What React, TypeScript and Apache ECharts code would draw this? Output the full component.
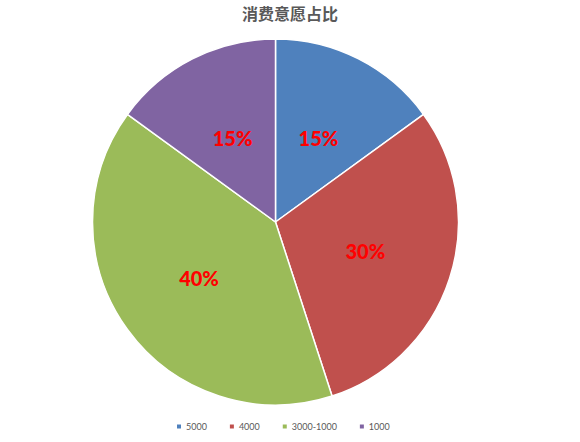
import React, { useEffect, useRef } from "react";
import * as echarts from "echarts";

const titleText = "消费意愿占比";
const categories = ["5000", "4000", "3000-1000", "1000"];
const values = [15, 30, 40, 15];
const colors = ["#4F81BD", "#C0504D", "#9BBB59", "#8064A2"];

export default function App() {
  const ref = useRef<HTMLDivElement>(null);
  useEffect(() => {
    if (!ref.current) return;
    const chart = echarts.init(ref.current, null, { renderer: "svg" });
    chart.setOption({
      animation: false,
      backgroundColor: "#ffffff",
      color: colors,
      title: {
        text: titleText,
        left: "center",
        top: 0,
        textStyle: {
          fontFamily: "Noto Sans CJK SC",
          fontSize: 16,
          fontWeight: "bold",
          color: "#595959",
        },
      },
      legend: {
        left: 175,
        top: 422,
        padding: 0,
        icon: "rect",
        itemWidth: 6,
        itemHeight: 6,
        itemGap: 21,
        textStyle: {
          fontFamily: "Lato",
          fontSize: 9,
          color: "#595959",
          padding: [0, 0, 0, -1],
        },
        data: categories,
      },
      series: [
        {
          type: "pie",
          center: [275.5, 222],
          radius: 183,
          startAngle: 90,
          clockwise: true,
          itemStyle: { borderColor: "#ffffff", borderWidth: 1.5 },
          label: {
            show: true,
            position: "inside",
            formatter: "{d}%",
            color: "#FF0000",
            fontFamily: "Lato",
            fontWeight: 900,
            fontSize: 20,
          },
          labelLine: { show: false },
          emphasis: { disabled: true },
          data: categories.map((c, i) => ({ name: c, value: values[i] })),
        },
      ],
    });
    return () => chart.dispose();
  }, []);
  return (
    <div
      ref={ref}
      style={{ position: "fixed", left: 0, top: 0, width: 580, height: 442 }}
    />
  );
}
